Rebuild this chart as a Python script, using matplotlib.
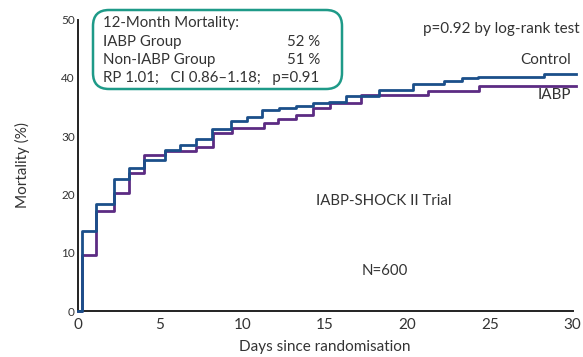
import matplotlib
matplotlib.use("Agg")
import matplotlib.pyplot as plt
from matplotlib.patches import FancyBboxPatch

plt.rcParams['font.family'] = ['Lato', 'DejaVu Sans']

# step times (days) and cumulative mortality (%)
control_days = [0, 0.3, 1.15, 2.2, 3.1, 4.05, 5.3, 6.2, 7.2, 8.15, 9.3, 10.3, 11.2,
                12.2, 13.25, 14.25, 15.25, 16.3, 18.3, 20.35, 22.2, 23.3, 24.3, 28.25, 30.2]
control_mort = [0, 13.7, 18.4, 22.6, 24.6, 25.9, 27.6, 28.4, 29.5, 31.2, 32.6, 33.3, 34.5,
                34.9, 35.2, 35.6, 35.9, 36.9, 37.9, 39.0, 39.5, 39.9, 40.2, 40.6, 40.6]

iabp_days = [0, 0.3, 1.15, 2.2, 3.1, 4.05, 5.3, 7.2, 8.2, 9.35, 11.3, 12.15, 13.25,
             14.25, 15.3, 17.2, 21.25, 24.35, 30.2]
iabp_mort = [0, 9.6, 17.1, 20.3, 23.7, 26.8, 27.4, 28.2, 30.5, 31.4, 32.2, 33.0, 33.7,
             34.9, 35.6, 37.0, 37.8, 38.6, 38.6]

x_ticks = [0, 5, 10, 15, 20, 25, 30]
y_ticks = [0, 10, 20, 30, 40, 50]

box_lines = ["12-Month Mortality:", "IABP Group", "Non-IABP Group"]
box_values = ["", "52 %", "51 %"]
box_stats = "RP 1.01;   CI 0.86\u20131.18;   p=0.91"

blue = '#1b4f8a'
purple = '#5c2b83'
text_col = '#333333'
teal = '#1e9a88'

fig = plt.figure(figsize=(5.83, 3.57), dpi=100)
ax = fig.add_axes([77.5 / 583, 1 - 311 / 357, 495 / 583, (311 - 19.5) / 357])

ax.step(control_days, control_mort, where='post', color=blue, lw=2.0, clip_on=False, zorder=3)
ax.step(iabp_days, iabp_mort, where='post', color=purple, lw=2.0, clip_on=False, zorder=2)

ax.set_xlim(0, 30)
ax.set_ylim(0, 50)
ax.set_xticks(x_ticks)
ax.set_yticks(y_ticks)
ax.tick_params(axis='x', length=0, pad=5, labelsize=11, colors=text_col)
ax.tick_params(axis='y', length=0, pad=2, labelsize=8.5, colors=text_col)
for s in ['top', 'right']:
    ax.spines[s].set_visible(False)
for s in ['left', 'bottom']:
    ax.spines[s].set_linewidth(1.4)
    ax.spines[s].set_color('#222222')

ax.set_xlabel('Days since randomisation', fontsize=11, color=text_col, labelpad=6)
ax.set_ylabel('Mortality (%)', fontsize=11, color=text_col, labelpad=22)

# annotation box
box = FancyBboxPatch((0.93, 2.68), 2.49, 0.79, boxstyle='round,pad=0,rounding_size=0.16',
                     transform=fig.dpi_scale_trans, facecolor='none', edgecolor=teal, lw=1.8)
fig.patches.append(box)
rows_y = [23, 42, 60]
for label, val, yy in zip(box_lines, box_values, rows_y):
    fig.text(103 / 583, 1 - yy / 357, label, fontsize=10.8, color=text_col, va='center')
    if val:
        fig.text(320 / 583, 1 - yy / 357, val, fontsize=10.8, color=text_col, va='center', ha='right')
fig.text(103 / 583, 1 - 78 / 357, box_stats, fontsize=10.8, color=text_col, va='center')

fig.text(580 / 583, 1 - 29 / 357, 'p=0.92 by log-rank test', fontsize=11, color=text_col,
         va='center', ha='right')
fig.text(571 / 583, 1 - 60 / 357, 'Control', fontsize=11, color=text_col, va='center', ha='right')
fig.text(571 / 583, 1 - 95 / 357, 'IABP', fontsize=11, color=text_col, va='center', ha='right')
fig.text(384 / 583, 1 - 201 / 357, 'IABP-SHOCK II Trial', fontsize=10.8, color=text_col,
         va='center', ha='center')
fig.text(385 / 583, 1 - 271 / 357, 'N=600', fontsize=10.8, color=text_col, va='center', ha='center')

fig.savefig('out.png', dpi=100)
